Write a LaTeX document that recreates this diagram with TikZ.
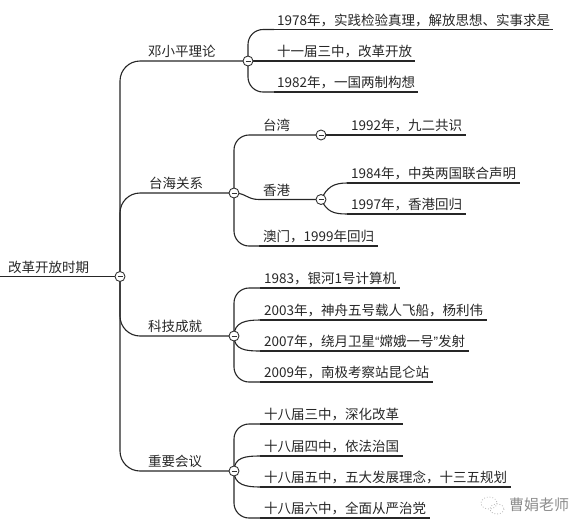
\documentclass[tikz,border=0pt]{standalone}
\usepackage{fontspec}
\setmainfont{Noto Sans CJK SC}
\newfontfamily\latq{Liberation Sans}
\usetikzlibrary{backgrounds}
\begin{document}
\begin{tikzpicture}[x=1pt,y=-1pt,
  every node/.style={font=\fontsize{13.5}{16}\selectfont, text=black!85},
  lbl/.style={anchor=south west, inner xsep=4pt, inner ysep=0pt, text height=10pt, text depth=4pt},
  knob/.style={circle, draw=black!80, fill=white, line width=0.9pt, minimum size=10pt, inner sep=0pt,
    path picture={\draw[line width=1pt] ([xshift=2.5pt]path picture bounding box.west) -- ([xshift=-2.5pt]path picture bounding box.east);}},
  conn/.style={draw=black!85, line width=1.1pt},
  trunk/.style={conn, rounded corners=20pt},
  elbow/.style={conn, rounded corners=15pt},
]
\useasboundingbox (0,0) rectangle (584,531);

% root
\node[lbl, inner xsep=8pt] (root) at (0,276.5) {改革开放时期};
\node[knob] (r) at (120,276.5) {};

% main branches
\node[knob] (c1) at (248,61) {};
\node[knob] (c2) at (234,193) {};
\node[knob] (c3) at (234,336) {};
\node[knob] (c4) at (234,471) {};
\node[lbl, inner xsep=3pt] (b1) at (145,61) {邓小平理论};
\node[lbl, inner xsep=3pt] (b2) at (146,193) {台海关系};
\node[lbl, inner xsep=3pt] (b3) at (145,336) {科技成就};
\node[lbl, inner xsep=3pt] (b4) at (145,471) {重要会议};

% Deng leaves
\node[lbl, inner xsep=3pt] (d1) at (274,29.5) {1978年，实践检验真理，解放思想、实事求是};
\node[lbl, inner xsep=3pt] (d2) at (274,61) {十一届三中，改革开放};
\node[lbl, inner xsep=3pt] (d3) at (274,92) {1982年，一国两制构想};

% Taihai
\node[lbl] (h1) at (259,135) {台湾};
\node[knob] (c21) at (321,135) {};
\node[lbl] (k1) at (347,135) {1992年，九二共识};
\node[lbl] (h2) at (259,199.5) {香港};
\node[knob] (c22) at (321,199.5) {};
\node[lbl] (k21) at (347,183) {1984年，中英两国联合声明};
\node[lbl] (k22) at (347,214) {1997年，香港回归};
\node[lbl] (h3) at (259,246) {澳门，1999年回归};

% Keji
\node[lbl] (j1) at (260,288) {1983，银河1号计算机};
\node[lbl] (j2) at (260,320) {2003年，神舟五号载人飞船，杨利伟};
\node[lbl] (j3) at (260,351) {2007年，绕月卫星{\latq “}嫦娥一号{\latq ”}发射};
\node[lbl] (j4) at (260,382) {2009年，南极考察站昆仑站};

% Zhongyao
\node[lbl] (z1) at (260,424) {十八届三中，深化改革};
\node[lbl] (z2) at (260,456) {十八届四中，依法治国};
\node[lbl] (z3) at (260,487) {十八届五中，五大发展理念，十三五规划};
\node[lbl] (z4) at (260,518) {十八届六中，全面从严治党};

% watermark
\node[anchor=west, inner sep=0pt, text=black!45, font=\fontsize{15}{17}\selectfont] (wm) at (509,505) {曹娟老师};
\draw[black!30, dotted, line width=0.8pt] (489,503) ellipse (8 and 6);
\draw[black!30, dotted, line width=0.8pt] (497,509) ellipse (7 and 5);

\begin{pgfonlayer}{background}
  \draw[conn] (root.south west) -- (r);
  \draw[trunk] (r.center) |- (c1.center);
  \draw[trunk] (r.center) |- (c2.center);
  \draw[trunk] (r.center) |- (c3.center);
  \draw[trunk] (r.center) |- (c4.center);
  % Deng
  \draw[elbow] (c1.center) |- (d1.south west);
  \draw[conn] (c1.center) -- (d2.south west);
  \draw[elbow] (c1.center) |- (d3.south west);
  % Taihai
  \draw[elbow] (c2.center) |- (c21.center);
  \draw[conn] (c21.center) -- (k1.south west);
  \draw[conn] (c2.center) .. controls +(12,0) and +(-12,0) .. (h2.south west) -- (c22.center);
  \draw[conn] (c22.center) .. controls +(6,-12) and +(-14,0) .. (k21.south west);
  \draw[conn] (c22.center) .. controls +(6,12) and +(-14,0) .. (k22.south west);
  \draw[elbow] (c2.center) |- (h3.south west);
  % Keji
  \draw[elbow] (c3.center) |- (j1.south west);
  \draw[conn] (c3.center) .. controls +(0,-14) and +(-14,0) .. (j2.south west);
  \draw[conn] (c3.center) .. controls +(0,14) and +(-14,0) .. (j3.south west);
  \draw[elbow] (c3.center) |- (j4.south west);
  % Zhongyao
  \draw[elbow] (c4.center) |- (z1.south west);
  \draw[conn] (c4.center) .. controls +(0,-14) and +(-14,0) .. (z2.south west);
  \draw[conn] (c4.center) .. controls +(0,14) and +(-14,0) .. (z3.south west);
  \draw[elbow] (c4.center) |- (z4.south west);
  % underlines
  \foreach \n in {d1,d2,d3,k1,k21,k22,h3,j1,j2,j3,j4,z1,z2,z3,z4}
    \draw[conn] (\n.south west) -- (\n.south east);
\end{pgfonlayer}
\end{tikzpicture}
\end{document}
